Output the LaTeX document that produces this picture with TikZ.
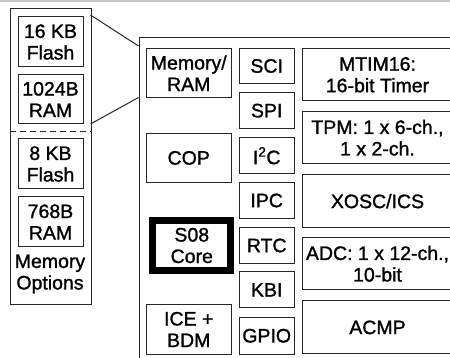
\documentclass[tikz,border=0pt]{standalone}
\usepackage{fontspec}
\setmainfont{Liberation Sans}
\newfontfamily\medfont[FakeBold=1.3]{Liberation Sans}
\begin{document}
\begin{tikzpicture}[x=1pt,y=-1pt,
  box/.style={draw=black!85, line width=1pt, inner sep=0pt, align=center, anchor=north west,
    font=\medfont\fontsize{19.5}{21.5}\selectfont},
  plain/.style={draw=black!85, line width=1pt, inner sep=0pt, anchor=north west},
  conn/.style={draw=black!85, line width=1pt},
  corebox/.style={box, line width=7pt, draw=black}]
\useasboundingbox (0,0) rectangle (450,358);
\clip (0,0) rectangle (450,358);
\draw[black!22, line width=1.5pt] (0,1) -- (450,1);
% memory options column
\node[plain, minimum width=81.5pt, minimum height=296pt] (opts) at (9.5,8) {};
\node[box, minimum width=65pt, minimum height=50pt] (f16) at (17.5,16.5) {16 KB\\Flash};
\node[box, minimum width=65pt, minimum height=49pt] (r1024) at (17.5,74.5) {1024B\\RAM};
\draw[black!85, line width=1pt, dash pattern=on 6pt off 4pt] (9.5,132) -- (90.5,132);
\node[box, minimum width=65pt, minimum height=50pt] (f8) at (17.5,138.5) {8 KB\\Flash};
\node[box, minimum width=65pt, minimum height=50pt] (r768) at (17.5,196.5) {768B\\RAM};
\node[align=center, inner sep=0pt, font=\medfont\fontsize{19.5}{21.5}\selectfont] (optlbl) at (50,274) {Memory\\Options};
% MCU outline
\node[plain, minimum width=330pt, minimum height=340pt] (mcu) at (138.5,37.5) {};
\coordinate (a1) at (90.5,15);
\coordinate (b1) at (138.5,46);
\coordinate (a2) at (90.5,124);
\coordinate (b2) at (138.5,97.5);
\draw[conn] (a1) -- (b1);
\draw[conn] (a2) -- (b2);
% left column
\node[box, minimum width=84.5pt, minimum height=49.5pt] (mem) at (146,48) {Memory/\\RAM};
\node[box, minimum width=84.5pt, minimum height=49.5pt] (cop) at (146,132.7) {COP};
\node[corebox, minimum width=78pt, minimum height=50.5pt] (core) at (149.3,216.8) {S08\\Core};
\node[box, minimum width=84.5pt, minimum height=50.5pt] (ice) at (146,303.7) {ICE +\\BDM};
% middle column
\node[box, minimum width=55pt, minimum height=35pt] (sci) at (238.7,48) {SCI};
\node[box, minimum width=55pt, minimum height=35.5pt] (spi) at (238.7,92.4) {SPI};
\node[box, minimum width=55pt, minimum height=36.5pt] (i2c) at (238.7,137) {I\textsuperscript{2}C};
\node[box, minimum width=55pt, minimum height=36pt] (ipc) at (238.7,182) {IPC};
\node[box, minimum width=55pt, minimum height=36pt] (rtc) at (238.7,227) {RTC};
\node[box, minimum width=55pt, minimum height=36pt] (kbi) at (238.7,271.4) {KBI};
\node[box, minimum width=55pt, minimum height=36.5pt] (gpio) at (238.7,317) {GPIO};
% right column
\node[box, minimum width=151pt, minimum height=52.5pt] (mtim) at (301.5,48) {MTIM16:\\16-bit Timer};
\node[box, minimum width=151pt, minimum height=52.5pt] (tpm) at (301.5,111) {TPM: 1 x 6-ch.,\\1 x 2-ch.};
\node[box, minimum width=151pt, minimum height=52.5pt] (xosc) at (301.5,174.4) {XOSC/ICS};
\node[box, minimum width=151pt, minimum height=52.5pt] (adc) at (301.5,237) {ADC: 1 x 12-ch.,\\10-bit};
\node[box, minimum width=151pt, minimum height=53pt] (acmp) at (301.5,300.4) {ACMP};
\end{tikzpicture}
\end{document}
